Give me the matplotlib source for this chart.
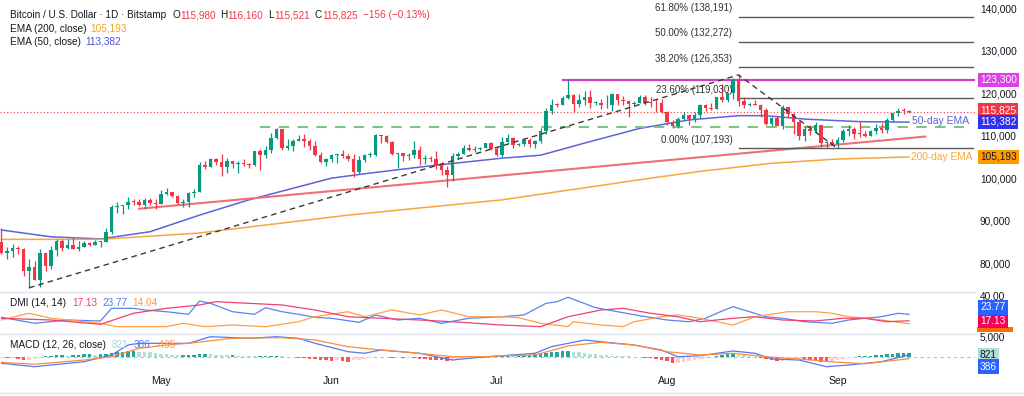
import numpy as np
import pandas as pd
import matplotlib
matplotlib.use("Agg")
import matplotlib.pyplot as plt
from matplotlib.lines import Line2D
from matplotlib.patches import Rectangle
from matplotlib.transforms import blended_transform_factory

plt.rcParams["font.family"] = ["Liberation Sans", "DejaVu Sans"]

# ---- daily candles, Apr 2 .. Sep 14 2025 (thousands of USD) ----
open_k = [
    85.2, 82.5, 83.1, 83.8, 83.5, 78.4, 79.2, 76.3, 82.6, 79.6, 83.4, 85.3, 83.7, 84.5, 83.6, 84.0, 84.9, 84.5, 85.1, 85.2, 87.5, 93.4, 93.7, 93.9, 94.7, 94.6, 93.8, 95.0, 94.3,
    94.2, 96.5, 96.9, 95.9, 94.3, 94.7, 96.8, 97.0, 103.2, 102.9, 104.6, 104.1, 102.8, 104.2, 103.5, 103.7, 103.5, 103.2, 106.5, 105.6, 106.8, 109.7, 111.7, 107.3, 107.8, 109.0, 109.4, 108.9, 107.8, 105.6, 103.9,
    104.6, 105.7, 105.8, 105.4, 104.7, 101.6, 104.4, 105.6, 105.7, 110.3, 110.2, 108.7, 105.9, 106.1, 105.4, 105.6, 106.8, 104.6, 104.9, 104.6, 103.3, 102.2, 100.9, 105.5, 106.0, 107.3, 106.9, 107.1, 107.3, 108.4,
    107.1, 105.7, 108.8, 109.6, 108.0, 108.2, 109.2, 108.2, 108.9, 111.3, 115.9, 117.5, 117.4, 119.1, 119.8, 117.7, 118.7, 119.3, 117.9, 117.9, 117.3, 117.4, 119.9, 118.7, 118.3, 117.6, 117.9, 119.4, 118.0, 117.9, 117.8,
    115.7, 113.3, 112.5, 114.2, 115.1, 114.1, 115.0, 117.5, 116.7, 116.5, 119.3, 118.7, 120.2, 123.3, 118.4, 117.4, 117.5, 117.4, 116.3, 112.9, 114.3, 112.5, 116.9, 115.4, 113.5, 110.1, 111.8, 111.3, 112.6, 108.4, 108.8,
    108.2, 109.2, 111.2, 111.7, 110.7, 110.7, 110.2, 111.2, 112.1, 111.5, 113.9, 115.5, 116.1, 115.98,
]
high_k = [
    88.5, 83.9, 84.7, 84.2, 83.8, 81.2, 80.8, 83.5, 82.7, 84.2, 85.9, 86.0, 85.8, 86.4, 85.5, 85.4, 85.1, 85.6, 85.3, 88.5, 93.9, 94.7, 94.0, 95.8, 95.3, 95.3, 95.6, 95.5, 95.2,
    97.4, 97.9, 96.9, 96.3, 95.2, 96.9, 97.7, 104.0, 104.3, 104.9, 104.9, 105.8, 104.9, 104.3, 104.2, 104.6, 103.7, 106.7, 107.1, 107.7, 110.8, 111.9, 111.8, 109.5, 109.3, 110.4, 110.7, 109.3, 108.9, 106.3, 104.9,
    105.9, 105.9, 106.8, 106.0, 105.9, 105.3, 105.9, 106.4, 110.6, 110.4, 110.4, 108.9, 106.2, 106.2, 106.1, 108.9, 107.8, 105.6, 105.3, 106.5, 104.0, 103.0, 106.1, 106.3, 108.1, 108.3, 107.7, 107.6, 108.5, 108.8,
    107.5, 109.8, 110.6, 109.8, 108.4, 109.7, 109.7, 109.2, 111.9, 116.8, 118.9, 118.0, 119.5, 123.2, 119.9, 120.0, 120.8, 120.9, 118.3, 118.9, 119.7, 120.2, 120.1, 119.5, 118.5, 118.4, 119.8, 119.8, 119.2, 118.8, 118.9,
    116.0, 114.0, 114.7, 115.7, 115.1, 115.7, 117.6, 117.7, 117.9, 119.3, 122.3, 120.3, 123.7, 124.5, 119.2, 117.9, 118.6, 117.6, 116.8, 114.6, 114.8, 117.4, 117.0, 115.6, 113.6, 112.4, 112.6, 113.4, 112.7, 108.9, 109.5,
    109.9, 111.8, 112.6, 112.2, 113.4, 111.3, 111.6, 112.9, 113.2, 114.3, 115.5, 116.8, 116.8, 116.16,
]
low_k = [
    82.3, 81.2, 81.6, 82.4, 77.2, 74.4, 76.2, 74.6, 78.4, 78.9, 82.0, 83.0, 83.6, 83.6, 83.1, 83.9, 84.2, 84.4, 83.9, 85.1, 87.0, 91.9, 91.7, 92.9, 93.9, 93.6, 92.9, 93.8, 92.9,
    94.1, 96.3, 95.7, 94.2, 93.5, 93.4, 95.8, 96.9, 102.3, 102.8, 103.3, 100.8, 101.5, 102.6, 101.4, 103.1, 102.6, 103.1, 102.1, 104.9, 106.1, 109.3, 106.8, 106.9, 106.6, 108.9, 107.6, 106.8, 105.3, 103.7, 103.1,
    103.9, 103.7, 105.0, 104.2, 100.4, 101.1, 103.9, 105.1, 105.3, 108.4, 108.4, 105.7, 102.7, 104.3, 104.5, 104.9, 103.4, 103.5, 103.9, 102.4, 101.0, 98.2, 99.6, 104.6, 105.8, 106.6, 106.3, 106.8, 107.2, 106.8,
    105.3, 105.1, 108.6, 107.3, 107.8, 107.8, 107.5, 107.4, 108.4, 110.6, 115.2, 116.9, 117.3, 118.9, 115.7, 116.9, 117.4, 116.8, 117.3, 116.5, 116.6, 116.1, 117.4, 117.4, 114.7, 117.2, 117.8, 117.4, 117.0, 115.8, 115.5,
    112.7, 112.0, 112.0, 114.0, 112.7, 113.4, 114.3, 115.9, 116.3, 116.5, 118.1, 118.2, 118.9, 117.2, 116.8, 117.2, 117.3, 114.7, 112.7, 112.4, 112.4, 111.7, 114.7, 110.7, 109.2, 109.0, 110.4, 110.9, 107.5, 107.4, 108.1,
    107.193, 108.6, 110.2, 109.3, 110.0, 110.0, 110.2, 110.6, 110.8, 110.9, 113.4, 114.8, 115.3, 115.521,
]
close_k = [
    82.5, 83.1, 83.8, 83.5, 78.4, 79.2, 76.3, 82.6, 79.6, 83.4, 85.3, 83.7, 84.5, 83.6, 84.0, 84.9, 84.5, 85.1, 85.2, 87.5, 93.4, 93.7, 93.9, 94.7, 94.6, 93.8, 95.0, 94.3, 94.2,
    96.5, 96.9, 95.9, 94.3, 94.7, 96.8, 97.0, 103.2, 102.9, 104.6, 104.1, 102.8, 104.2, 103.5, 103.7, 103.5, 103.2, 106.5, 105.6, 106.8, 109.7, 111.7, 107.3, 107.8, 109.0, 109.4, 108.9, 107.8, 105.6, 103.9, 104.6,
    105.7, 105.8, 105.4, 104.7, 101.6, 104.4, 105.6, 105.7, 110.3, 110.2, 108.7, 105.9, 106.1, 105.4, 105.6, 106.8, 104.6, 104.9, 104.6, 103.3, 102.2, 100.9, 105.5, 106.0, 107.3, 106.9, 107.1, 107.3, 108.4, 107.1,
    105.7, 108.8, 109.6, 108.0, 108.2, 109.2, 108.2, 108.9, 111.3, 115.9, 117.5, 117.4, 119.1, 119.8, 117.7, 118.7, 119.3, 117.9, 117.9, 117.3, 117.4, 119.9, 118.7, 118.3, 117.6, 117.9, 119.4, 118.0, 117.9, 117.8, 115.7,
    113.3, 112.5, 114.2, 115.1, 114.1, 115.0, 117.5, 116.7, 116.5, 119.3, 118.7, 120.2, 123.3, 118.4, 117.4, 117.5, 117.4, 116.3, 112.9, 114.3, 112.5, 116.9, 115.4, 113.5, 110.1, 111.8, 111.3, 112.6, 108.4, 108.8, 108.2,
    109.2, 111.2, 111.7, 110.7, 110.6, 110.2, 111.2, 112.1, 111.5, 113.9, 115.5, 116.1, 116.0, 115.825,
]
start_date = "2025-04-02"
last_change = -156
last_change_pct = -0.13

# ---- moving averages (candle index -> value) ----
ema50_idx = [0, 9, 18, 27, 36, 45, 60, 67, 78, 91, 98, 107, 116, 125, 134, 139, 146, 156, 165]
ema50_k = [88.0, 86.4, 85.9, 87.6, 91.5, 95.1, 100.2, 101.4, 103.1, 104.9, 105.6, 108.8, 111.9, 113.9, 114.9, 114.9, 114.1, 113.5, 113.382]
ema200_idx = [0, 18, 36, 63, 91, 109, 118, 127, 140, 152, 165]
ema200_k = [85.8, 85.8, 87.3, 91.5, 95.1, 98.5, 100.2, 101.8, 103.7, 104.7, 105.193]

# ---- drawings ----
support_idx = [25, 168]
support_k = [93.0, 110.0]
abc_idx = [5, 134, 152]
abc_k = [74.4, 124.5, 107.193]
fib_pct = ["0.00%", "23.60%", "38.20%", "50.00%", "61.80%"]
fib_price = [107193, 119030, 126353, 132272, 138191]
resistance_k = 123.3
breakout_k = 112.3

# ---- DMI (14, 14) ----
plus_di_idx = [0, 6, 12, 18, 20, 24, 26, 30, 34, 36, 38, 42, 46, 48, 51, 54, 57, 60, 65, 68, 72, 76, 80, 85, 91, 95, 99, 101,
               103, 108, 112, 116, 121, 125, 128, 131, 133, 136, 139, 142, 146, 151, 154, 157, 160, 163, 165]
plus_di = [20.7, 14.5, 17.9, 16.9, 30.0, 30.0, 28.3, 26.5, 23.8, 37.6, 35.2, 26.5, 23.8, 30.7, 26.5, 23.8, 20.7, 19.7, 15.5, 23.1,
           17.9, 19.7, 14.5, 19.7, 21.3, 23.1, 35.2, 36.9, 41.5, 30.7, 26.5, 22.4, 17.9, 16.1, 19.7, 27.2, 31.7, 26.5, 21.3, 19.7,
           16.1, 14.5, 17.9, 19.7, 21.3, 24.9, 23.77]
adx_idx = [0, 9, 18, 24, 30, 36, 39, 45, 51, 57, 63, 69, 76, 82, 91, 98, 103, 109, 113, 118, 123, 127, 133, 137, 142, 148, 153, 157, 161, 165]
adx = [19.7, 17.9, 13.4, 24.9, 30.0, 33.5, 36.9, 35.2, 33.5, 28.3, 21.3, 19.7, 17.9, 16.1, 12.7, 11.0, 21.3, 28.3, 30.0, 24.9,
       21.3, 16.1, 19.7, 21.3, 17.9, 16.9, 19.7, 19.7, 16.1, 17.13]
minus_di_idx = [0, 5, 9, 18, 21, 30, 33, 37, 42, 48, 54, 57, 63, 66, 71, 76, 80, 85, 91, 94, 98, 103, 104, 109, 113, 115, 120,
                123, 127, 133, 137, 143, 148, 151, 154, 157, 160, 165]
minus_di = [17.9, 24.9, 19.7, 14.5, 11.0, 11.0, 14.5, 11.0, 12.7, 11.0, 16.1, 21.3, 26.5, 21.3, 28.3, 23.1, 28.3, 21.3, 21.3, 20.3,
            14.5, 11.0, 16.1, 12.7, 11.0, 16.1, 21.3, 23.1, 19.7, 12.7, 21.3, 26.5, 26.5, 24.9, 21.3, 19.7, 17.9, 14.04]

# ---- MACD (12, 26, close), thousands ----
macd_idx = [0, 6, 9, 15, 20, 23, 25, 30, 34, 38, 45, 50, 54, 57, 63, 66, 69, 76, 82, 85, 91, 97, 100, 106, 109, 115, 120, 123,
            127, 133, 137, 140, 145, 150, 154, 160, 165]
macd_k = [-1.41, -2.14, -1.77, -1.07, 0.36, 2.5, 2.86, 2.86, 2.86, 4.27, 3.93, 4.27, 3.93, 2.86, 1.07, 0.73, 1.43, 0.73, -0.71,
          -0.34, 0.21, 0.73, 2.14, 3.57, 3.2, 2.5, 1.43, 0.0, 0.21, 1.22, 0.73, -0.49, -0.71, -2.14, -1.77, -1.07, 0.386]
signal_idx = [0, 6, 15, 20, 25, 30, 34, 42, 51, 57, 63, 69, 76, 82, 88, 91, 97, 103, 109, 115, 121, 127, 133, 139, 145, 151, 157, 165]
signal_k = [-1.2, -1.62, -0.71, 0.0, 1.78, 2.5, 2.86, 3.93, 4.06, 3.57, 2.14, 1.43, 0.73, 0.0, 0.0, 0.2, 0.36, 2.3, 3.08, 2.5,
            1.07, 0.36, 0.73, 0.0, -0.5, -1.1, -1.5, -0.435]
hist_k = [
    -0.2, -0.3, -0.3, -0.5, -0.7, -0.6, -0.4, -0.2, 0.1, 0.2, 0.3, 0.3, 0.2, 0.3, 0.4, 0.5, 0.5, 0.4, 0.5, 0.6,
    0.8, 1.0, 1.1, 1.2, 1.2, 1.1, 1.0, 0.9, 0.8, 0.6, 0.5, 0.4, 0.3, 0.3, 0.3, 0.35, 0.5, 0.6, 0.5, 0.4,
    0.35, 0.3, 0.3, 0.25, 0.2, 0.15, 0.1, 0.1, 0.15, 0.2, 0.25, 0.1, 0.0, -0.1, -0.2, -0.3,
    -0.4, -0.5, -0.7, -0.8, -0.9, -0.8, -0.9, -1.1, -0.8, -0.6, -0.4, -0.2, -0.1, -0.05, -0.1, -0.2, -0.2, -0.3,
    -0.3, -0.35, -0.4, -0.5, -0.6, -0.7, -0.8, -0.9, -0.8, -0.6, -0.4, -0.3, -0.1, 0.0, 0.1, 0.15, 0.2,
    0.2, 0.2, 0.1, 0.2, 0.3, 0.4, 0.5, 0.6, 0.8, 1.0, 1.1, 1.2, 1.2, 1.1,
    0.9, 0.8, 0.6, 0.5, 0.4, 0.3, 0.2, 0.15, 0.1, 0.05, 0.0, -0.05,
    -0.2, -0.3, -0.5, -0.7, -1.0, -1.3, -1.3, -1.1, -0.9, -0.7, -0.4, -0.2, 0.0, 0.2,
    0.3, 0.5, 0.5, 0.4, 0.3, 0.1, -0.1, -0.3, -0.5, -0.8, -1.0, -0.9, -0.7, -0.5, -0.4, -0.5,
    -0.7, -0.9, -1.1, -1.2, -1.0, -0.7, -0.5, -0.3, -0.1,
    0.05, 0.1, 0.2, 0.3, 0.4, 0.5, 0.6, 0.7, 0.78, 0.821,
]

month_labels = ["May", "Jun", "Jul", "Aug", "Sep"]
month_starts = ["2025-05-01", "2025-06-01", "2025-07-01", "2025-08-01", "2025-09-01"]
price_ticks_k = [80, 90, 100, 110, 120, 130, 140]

# ---- colours ----
UP, DOWN = "#089981", "#f23645"
TXT = "#131722"
EMA50_C, EMA200_C = "#5d63dc", "#f5a83c"
PLUS_C, ADX_C, MINUS_C = "#5b82ef", "#f0406e", "#ffa04a"
MACD_C, SIG_C = "#4f7cf0", "#ff8a3a"

W, H = 1024, 396
fig = plt.figure(figsize=(W / 100, H / 100), dpi=100)
fig.patch.set_facecolor("white")


def px_rect(x0, y0, x1, y1):
    return [x0 / W, 1 - y1 / H, (x1 - x0) / W, (y1 - y0) / H]


PX_DAY, PX_OFF, PLOT_RIGHT = 5.5, 1.5, 975
xlim = ((0 - PX_OFF) / PX_DAY, (PLOT_RIGHT - PX_OFF) / PX_DAY)


def make_ax(y0, y1, ylim):
    ax = fig.add_axes(px_rect(0, y0, PLOT_RIGHT, y1))
    ax.set_xlim(*xlim)
    ax.set_ylim(*ylim)
    ax.axis("off")
    return ax


ax = make_ax(0, 291, (73.65, 142.12))
ax_dmi = make_ax(292, 333, (4.42, 46.95))
ax_macd = make_ax(334, 372, (-3.27, 4.85))

dates = pd.date_range(start_date, periods=len(close_k))
idx = np.arange(len(close_k))
o, h, l, c = (np.array(v) for v in (open_k, high_k, low_k, close_k))
up = c >= o
cols = np.where(up, UP, DOWN)

# candles
ax.vlines(idx, l, h, colors=cols, lw=0.9, zorder=3)
body = np.maximum(np.abs(c - o), 0.2)
ax.bar(idx, body, bottom=np.minimum(o, c), width=0.72, color=cols, zorder=4, linewidth=0)

# moving averages
ax.plot(ema50_idx, ema50_k, color=EMA50_C, lw=1.1, zorder=2)
ax.plot(ema200_idx, ema200_k, color=EMA200_C, lw=1.1, zorder=2)

# trend lines and levels
ax.plot(support_idx, support_k, color="#ef6f77", lw=1.5, zorder=2)
ax.plot(abc_idx, abc_k, color="#3a3a3a", lw=1.0, ls=(0, (4, 3)), zorder=5)
ax.plot([102, xlim[1]], [resistance_k] * 2, color="#d23ad2", lw=1.6, zorder=2)
ax.plot([47, 175], [breakout_k] * 2, color="#7dc580", lw=1.5, ls=(0, (5, 4)), zorder=2)
ax.axhline(c[-1], color=DOWN, lw=0.8, ls=(0, (1, 2)), zorder=1)

fib_x0, fib_x1 = abc_idx[1], 176.6
for pct, price in zip(fib_pct, fib_price):
    ax.plot([fib_x0, fib_x1], [price / 1000] * 2, color="#5a5a5a", lw=1.0, zorder=2)
    ax.text(fib_x0 - 1.1, price / 1000 + 2.0, f"{pct} ({price:,})", fontsize=7, color="#333333",
            ha="right", va="center", zorder=6)

ax.text(165.6, ema50_k[-1] + 0.2, "50-day EMA", color=EMA50_C, fontsize=7.5, va="center", ha="left")
ax.text(165.4, ema200_k[-1], "200-day EMA", color=EMA200_C, fontsize=7.3, va="center", ha="left")

# right price scale
tr = blended_transform_factory(fig.transFigure, ax.transData)
lx = 980 / W
for v in price_ticks_k:
    ax.text(lx, v, f"{v * 1000:,}", transform=tr, fontsize=7.3, color=TXT, va="center", ha="left", clip_on=False)


def box(axis, y, s, fc, tc="white", ypx=None):
    t = blended_transform_factory(fig.transFigure, axis.transData) if ypx is None else fig.transFigure
    yy = y if ypx is None else 1 - ypx / H
    axis.text(lx, yy, s, transform=t, fontsize=7.3, color=tc, va="center", ha="left", clip_on=False,
              bbox=dict(boxstyle="square,pad=0.22", fc=fc, ec="none"), zorder=10)


box(ax, resistance_k, f"{resistance_k * 1000:,.0f}", "#de3fe8")
box(ax, c[-1], f"{c[-1] * 1000:,.0f}", DOWN, ypx=110.5)
box(ax, ema50_k[-1], f"{ema50_k[-1] * 1000:,.0f}", "#3232ee", ypx=122)
box(ax, ema200_k[-1], f"{ema200_k[-1] * 1000:,.0f}", "#ff9b00", tc=TXT)

# DMI panel
ax_dmi.plot(plus_di_idx, plus_di, color=PLUS_C, lw=0.9)
ax_dmi.plot(minus_di_idx, minus_di, color=MINUS_C, lw=0.9)
ax_dmi.plot(adx_idx, adx, color=ADX_C, lw=0.9)
fig.text(lx, 1 - 297 / H, "40.00", fontsize=7.3, color=TXT, va="center", ha="left", zorder=-1)
# the -DI price label sits almost fully under the ADX one: only its orange edge shows
fig.add_artist(Rectangle((977 / W, 1 - 331.5 / H), 36 / W, 5 / H, transform=fig.transFigure,
                         facecolor="#ff6d00", edgecolor="none", zorder=-1))
box(ax_dmi, 0, f"{adx[-1]:.2f}", "#f50057", ypx=320.5)
box(ax_dmi, 0, f"{plus_di[-1]:.2f}", "#2962ff", ypx=307.5)

# MACD panel
hist = np.array(hist_k)
prev = np.concatenate([[hist[0]], hist[:-1]])
hcol = np.where(hist >= 0, np.where(hist >= prev, "#26a69a", "#b2dfdb"),
                np.where(hist < prev, "#ff5252", "#ffcdd2"))
ax_macd.bar(idx, hist, width=0.72, color=hcol, linewidth=0, zorder=2)
ax_macd.axhline(0, color="#b8bcc6", lw=0.8, ls=(0, (3, 3)), zorder=1)
ax_macd.plot(macd_idx, macd_k, color=MACD_C, lw=0.9, zorder=3)
ax_macd.plot(signal_idx, signal_k, color=SIG_C, lw=0.9, zorder=3)
fig.text(lx, 1 - 338 / H, "5,000", fontsize=7.3, color=TXT, va="center", ha="left", zorder=-1)
box(ax_macd, 0, f"{hist[-1] * 1000:.0f}", "#b2dfdb", tc=TXT, ypx=355.5)
box(ax_macd, 0, f"{macd_k[-1] * 1000:.0f}", "#2962ff", ypx=366.5)

# time axis
trx = blended_transform_factory(ax.transData, fig.transFigure)
for lab, d in zip(month_labels, month_starts):
    ax.text(dates.get_loc(pd.Timestamp(d)), 1 - 381 / H, lab, transform=trx, fontsize=7.5,
            color=TXT, ha="center", va="center", clip_on=False)

# panel separators
for ypx in (291.5, 333.5):
    fig.add_artist(Line2D([0, PLOT_RIGHT / W], [1 - ypx / H] * 2, color="#e0e3eb", lw=1))
fig.add_artist(Line2D([0, 1], [1 - 392.5 / H] * 2, color="#e0e3eb", lw=1))

# legends (pieces placed one after another)
renderer = fig.canvas.get_renderer()


def legend(y_px, pieces, x_px=10, fs=7.2):
    x = x_px
    for s, col, gap in pieces:
        t = fig.text(x / W, 1 - y_px / H, s, color=col, fontsize=fs, ha="left", va="center")
        x += t.get_window_extent(renderer).width + gap


legend(15, [("Bitcoin / U.S. Dollar · 1D · Bitstamp", TXT, 6),
            ("O", TXT, 0), (f"{o[-1] * 1000:,.0f}", DOWN, 5),
            ("H", TXT, 0), (f"{h[-1] * 1000:,.0f}", DOWN, 5),
            ("L", TXT, 0), (f"{l[-1] * 1000:,.0f}", DOWN, 5),
            ("C", TXT, 0), (f"{c[-1] * 1000:,.0f}", DOWN, 5),
            (f"\u2212{abs(last_change)} (\u2212{abs(last_change_pct):.2f}%)", DOWN, 0)])
legend(28.5, [("EMA (200, close)", TXT, 4), (f"{ema200_k[-1] * 1000:,.0f}", "#f5a623", 0)])
legend(42, [("EMA (50, close)", TXT, 4), (f"{ema50_k[-1] * 1000:,.0f}", "#4a4fd8", 0)])
legend(303, [("DMI (14, 14)", TXT, 6), (f"{adx[-1]:.2f}", "#f0406e", 5),
             (f"{plus_di[-1]:.2f}", "#4f7cf0", 5), (f"{minus_di[-1]:.2f}", "#ff9a3c", 0)])
legend(345, [("MACD (12, 26, close)", TXT, 6), (f"{hist[-1] * 1000:.0f}", "#a8d8d2", 5),
             (f"{macd_k[-1] * 1000:.0f}", "#4f7cf0", 5), (f"-{abs(signal_k[-1]) * 1000:.0f}", "#ff9a3c", 0)])

fig.savefig("out.png", dpi=100, facecolor="white")
